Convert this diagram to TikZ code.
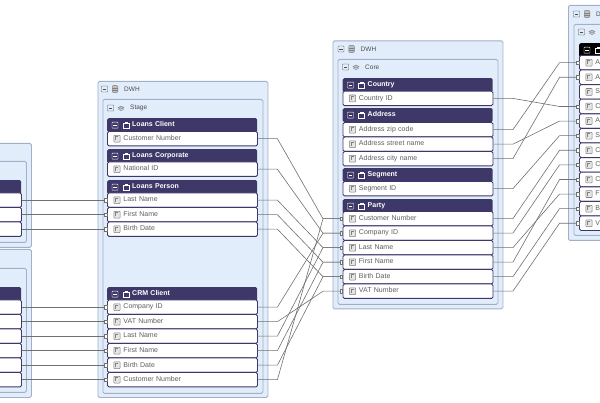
\documentclass[tikz,border=0pt]{standalone}
\usepackage{fontspec}
\setmainfont{Liberation Sans}
\usetikzlibrary{calc,arrows.meta}

\definecolor{fond}{HTML}{E2EDFC}
\definecolor{bord}{HTML}{A3AFC8}
\definecolor{marine}{HTML}{3E3869}
\definecolor{gristexte}{HTML}{5F5F5F}
\definecolor{grislien}{HTML}{707070}

\tikzset{
  moins/.pic={\draw[line width=.45,rounded corners=.6] (-3,-3) rectangle (3,3); \draw[line width=.45] (-1.6,0) -- (1.6,0);},
  sac/.pic={\draw[line width=.3] (-3,-3) rectangle (3,1.6); \draw[line width=.3] (-1.2,1.6) -- (-1.2,3.2) -- (1.2,3.2) -- (1.2,1.6);},
  fichier/.pic={\draw[line width=.55,draw=gray,fill=black!10,rounded corners=.7] (-3.2,-3.4) rectangle (3.2,3.4); \draw[line width=.55,draw=gray] (-1.3,-1.8) -- (-1.3,2) -- (1.3,2);},
  base/.pic={\draw[line width=.4,draw=gray,fill=black!25,rounded corners=1] (-2.8,-3.6) rectangle (2.8,3.6); \draw[line width=.4,draw=gray] (-2.8,1.2) -- (2.8,1.2) (-2.8,-1.2) -- (2.8,-1.2);},
  couche/.pic={\draw[line width=.4,draw=gray,fill=black!25] (-3,.3) -- (0,2) -- (3,.3) -- (0,-1.2) -- cycle; \draw[line width=.4,draw=gray] (-3,-1) -- (0,-2.6) -- (3,-1);},
}

% en-tete d'une table : nom, x, y, texte
\newcommand{\entete}[5][marine]{
  \node[entete,fill=#1] (#2) at (#3,#4) {\hspace*{24pt}#5};
  \pic[white] at ($(#2.west)+(8,0)$) {moins};
  \pic[white] at ($(#2.west)+(19,0)$) {sac};
}
% ligne d'une table : nom, x, y, texte
\newcommand{\champ}[4]{
  \node[champ] (#1) at (#2,#3) {\hspace*{15pt}#4};
  \pic at ($(#1.west)+(10,0)$) {fichier};
}
% titre d'un panneau : nom, x, y, icone, texte
\newcommand{\titre}[5]{
  \node[titre] (#1) at (#2,#3) {#5};
  \pic[black!70] at ($(#1.west)+(-19.5,0)$) {moins};
  \pic at ($(#1.west)+(-9,0)$) {#4};
}

\begin{document}
\begin{tikzpicture}[x=1pt,y=1pt]
  \tikzstyle{panneau}=[draw=bord, fill=fond, line width=.8, rounded corners=1.5, anchor=north west, inner sep=0];
  \tikzstyle{entete}=[anchor=north west, inner xsep=1, inner ysep=0, text width=148, minimum height=14, align=left, rounded corners=1.5, text=white, font=\fontsize{7}{8}\selectfont\bfseries, text height=5.5, text depth=3.5];
  \tikzstyle{champ}=[draw=marine, fill=white, line width=.9, rounded corners=1.5, anchor=north west, inner xsep=1, inner ysep=0, text width=148, minimum height=14.5, align=left, text=gristexte, font=\fontsize{7}{8}\selectfont, text height=5, text depth=1.4];
  \tikzstyle{titre}=[anchor=west, inner sep=0, text=black!70, font=\fontsize{6.5}{8}\selectfont];
  \tikzstyle{lien}=[draw=grislien, line width=.6, -{Square[open,length=2.6pt,width=3.8pt,line width=.4pt,fill=white]}];
  \tikzstyle{coude}=[lien, to path={-- ++(19.5,0) -- ($(\tikztotarget)+(-19.5,0)$) -- (\tikztotarget)}];

  \useasboundingbox (0,0) rectangle (600,-403);
  \clip (0,0) rectangle (600,-403);

  % panneaux
  \node[panneau, minimum width=170, minimum height=104] (srcA) at (-139,-143) {};
  \node[panneau, minimum width=165, minimum height=81] (srcAin) at (-139,-161) {};
  \node[panneau, minimum width=170, minimum height=148] (srcB) at (-139,-249) {};
  \node[panneau, minimum width=165, minimum height=124] (srcBin) at (-139,-268) {};
  \node[panneau, minimum width=170, minimum height=316] (dwhStage) at (97.5,-81) {};
  \node[panneau, minimum width=160, minimum height=294] (stage) at (102.5,-99) {};
  \node[panneau, minimum width=170, minimum height=268] (dwhCore) at (332.5,-40.5) {};
  \node[panneau, minimum width=160, minimum height=245] (core) at (337.5,-59) {};
  \node[panneau, minimum width=170, minimum height=235] (dwhCible) at (568,-5) {};
  \node[panneau, minimum width=160, minimum height=211] (cible) at (573.5,-24) {};

  \titre{tDwhStage}{124}{-89}{base}{DWH}
  \titre{tStage}{130}{-108}{couche}{Stage}
  \titre{tDwhCore}{360.5}{-49}{base}{DWH}
  \titre{tCore}{365}{-67}{couche}{Core}
  \titre{tDwhCible}{596}{-14}{base}{D}
  \titre{tCible}{601}{-32}{couche}{}

  % sources
  \entete{srcAt}{-129}{-180}{}
  \foreach \nom/\y in {aLast/192.5, aFirst/207, aBirth/221.5}
    \champ{\nom}{-129}{-\y}{};
  \entete{srcBt}{-129}{-287}{}
  \foreach \nom/\y in {bCompany/299.5, bVat/314, bLast/328.5, bFirst/343, bBirth/357.5, bCustomer/372}
    \champ{\nom}{-129}{-\y}{};

  % stage
  \entete{loansClient}{107}{-118}{Loans Client}
  \champ{lcCustomer}{107}{-131}{Customer Number}
  \entete{loansCorp}{107}{-149}{Loans Corporate}
  \champ{lcNational}{107}{-161.5}{National ID}
  \entete{loansPerson}{107}{-180}{Loans Person}
  \foreach \nom/\y/\texte in {lpLast/192.5/Last Name, lpFirst/207/First Name, lpBirth/221.5/Birth Date}
    \champ{\nom}{107}{-\y}{\texte};
  \entete{crmClient}{107}{-287}{CRM Client}
  \foreach \nom/\y/\texte in {crmCompany/299.5/Company ID, crmVat/314/VAT Number, crmLast/328.5/Last Name, crmFirst/343/First Name, crmBirth/357.5/Birth Date, crmCustomer/372/Customer Number}
    \champ{\nom}{107}{-\y}{\texte};

  % core
  \entete{country}{342.5}{-78}{Country}
  \champ{coCountry}{342.5}{-90.7}{Country ID}
  \entete{address}{342.5}{-108}{Address}
  \foreach \nom/\y/\texte in {adZip/122/Address zip code, adStreet/136.5/Address street name, adCity/151/Address city name}
    \champ{\nom}{342.5}{-\y}{\texte};
  \entete{segment}{342.5}{-168}{Segment}
  \champ{seSegment}{342.5}{-181}{Segment ID}
  \entete{party}{342.5}{-199}{Party}
  \foreach \nom/\y/\texte in {paCustomer/211/Customer Number, paCompany/225.5/Company ID, paLast/240/Last Name, paFirst/254.5/First Name, paBirth/269/Birth Date, paVat/283.5/VAT Number}
    \champ{\nom}{342.5}{-\y}{\texte};

  % cible
  \entete[black]{cibleT}{579}{-43}{}
  \foreach \nom/\y/\texte in {cA/55/A, cB/69.6/A, cC/84.2/S, cD/98.8/C, cE/113.4/A, cF/128/S, cG/142.6/C, cH/157.2/C, cI/171.8/C, cJ/186.4/F, cK/201/B, cL/215.6/V}
    \champ{\nom}{579}{-\y}{\texte};

  % liens
  \draw[lien] (aLast.east) -- (lpLast.west);
  \draw[lien] (aFirst.east) -- (lpFirst.west);
  \draw[lien] (aBirth.east) -- (lpBirth.west);
  \draw[lien] (bCompany.east) -- (crmCompany.west);
  \draw[lien] (bVat.east) -- (crmVat.west);
  \draw[lien] (bLast.east) -- (crmLast.west);
  \draw[lien] (bFirst.east) -- (crmFirst.west);
  \draw[lien] (bBirth.east) -- (crmBirth.west);
  \draw[lien] (bCustomer.east) -- (crmCustomer.west);

  \draw[coude] (lcCustomer.east) to (paCustomer.west);
  \draw[coude] (lcNational.east) to (paCompany.west);
  \draw[coude] (lpLast.east) to (paLast.west);
  \draw[coude] (lpFirst.east) to (paFirst.west);
  \draw[coude] (lpBirth.east) to (paBirth.west);
  \draw[coude] (crmCompany.east) to (paCompany.west);
  \draw[coude] (crmVat.east) to (paVat.west);
  \draw[coude] (crmLast.east) to (paLast.west);
  \draw[coude] (crmFirst.east) to (paFirst.west);
  \draw[coude] (crmBirth.east) to (paBirth.west);
  \draw[coude] (crmCustomer.east) to (paCustomer.west);

  \draw[coude] (coCountry.east) to (cD.west);
  \draw[coude] (adZip.east) to (cA.west);
  \draw[coude] (adStreet.east) to (cE.west);
  \draw[coude] (adCity.east) to (cB.west);
  \draw[coude] (seSegment.east) to (cF.west);
  \draw[coude] (paCustomer.east) to (cG.west);
  \draw[coude] (paCompany.east) to (cH.west);
  \draw[coude] (paLast.east) to (cJ.west);
  \draw[coude] (paFirst.east) to (cI.west);
  \draw[coude] (paBirth.east) to (cK.west);
  \draw[coude] (paVat.east) to (cL.west);
\end{tikzpicture}
\end{document}
